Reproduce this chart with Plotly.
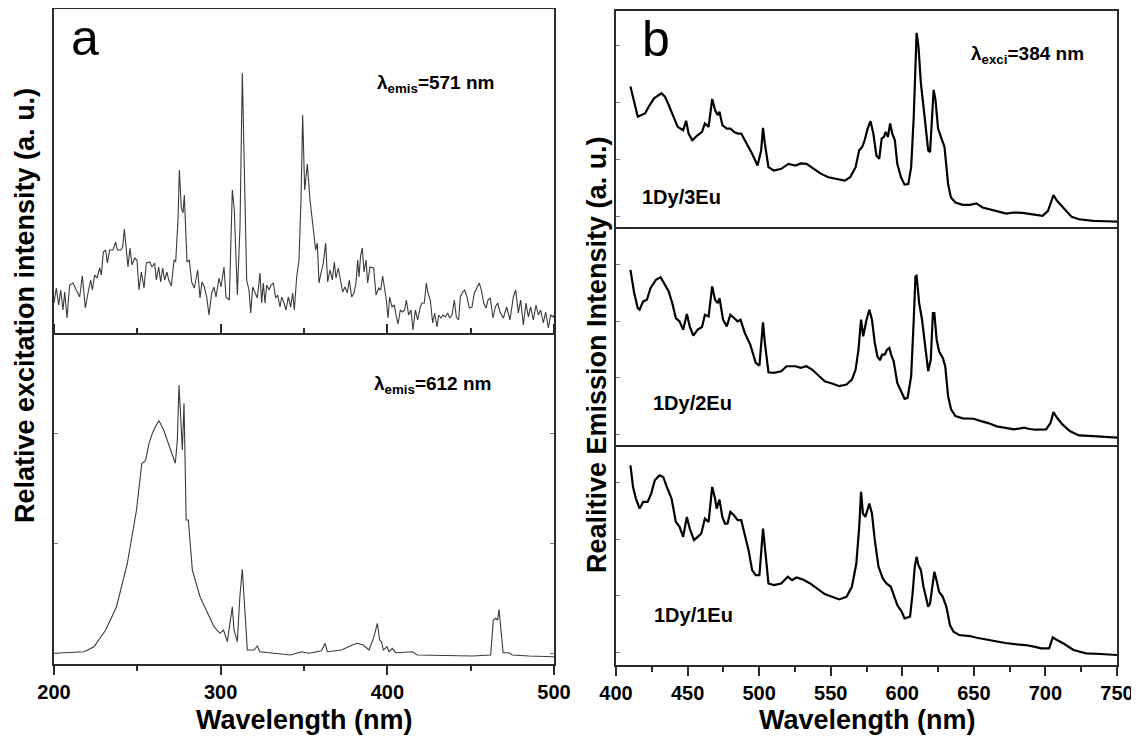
import plotly.graph_objects as go

# ---------------- data ----------------
# Panel a, top: excitation spectrum, lambda_emis = 571 nm
a_top_x = [200, 201.4, 202.8, 204, 205.4, 206.4, 207.8, 209.4, 211.4, 213.4, 215.4, 217, 218.8, 220.4, 222, 223,
           224.4, 225.8, 227.4, 228.4, 229.6, 231, 232, 233.4, 235.4, 237, 238, 240, 241.2, 242.2, 243.4, 244.4,
           245.6, 246.8, 248.4, 249.8, 251, 252.4, 254, 255.4, 257.4, 258.8, 260.4, 261.4, 262.8, 264, 265.2,
           266.4, 267.8, 268.8, 270.4, 272, 273, 274.4, 275.2, 276.4, 277.4, 278.2, 279.8, 281.2, 282.6, 284.2,
           286.2, 287.6, 288.8, 290.2, 291.6, 293, 294.6, 296, 297.2, 299, 300.2, 302, 303.2, 305.2, 307, 308.2,
           310, 311.6, 313, 314.2, 315.6, 317, 318, 319.2, 320.6, 322, 323.6, 324.6, 325.6, 326.6, 327.6, 329,
           330.2, 331.6, 333, 334.2, 335.6, 336.6, 338, 339.2, 340.6, 342, 343.2, 344.2, 345.6, 347, 348.2, 349.2,
           350.4, 352, 353.6, 355.6, 357, 358, 359, 360.2, 361.6, 363, 364.2, 365.6, 367, 368.2, 369.2, 370.6,
           372, 373.2, 374.6, 376, 377.2, 378.6, 380, 381.2, 382.2, 383, 384, 385, 386, 387.2, 388.2, 389.6,
           391.8, 393.2, 394.8, 396, 397.2, 398.4, 399.4, 400.4, 401.4, 402.8, 404.2, 405.2, 406.4, 407.8, 409.2,
           410.4, 411.4, 412.8, 414.2, 415.4, 416.8, 418.2, 419.8, 420.8, 422.2, 423.4, 424.4, 425.8, 427.2,
           428.4, 429.8, 430.8, 432.2, 433.4, 434.8, 436.2, 437.4, 438.8, 440.2, 441.4, 442.8, 443.8, 445.2,
           446.4, 447.8, 449.2, 450.8, 452.2, 453.8, 455.2, 456.4, 457.8, 459.2, 460.4, 461.8, 463.4, 464.8,
           466.2, 467.6, 469.6, 471.6, 473.6, 475.6, 477, 478.6, 480, 481.6, 483.2, 484.6, 486, 487.6, 489.2,
           490.6, 492, 493.6, 495, 496.6, 498, 499.6, 500]
a_top_y = [32, 47, 30, 45, 25, 43, 17, 50, 52, 45, 38, 59, 27, 42, 55, 45,
           60, 57, 67, 60, 83, 85, 72, 85, 85, 93, 85, 85, 88, 106, 88, 68,
           87, 70, 77, 75, 45, 63, 47, 72, 73, 68, 72, 55, 68, 53, 67,
           55, 63, 55, 49, 75, 73, 115, 165, 127, 122, 140, 73, 75, 53, 47,
           65, 37, 53, 48, 38, 20, 42, 48, 38, 57, 48, 68, 38, 35, 145, 125,
           40, 108, 262, 175, 55, 45, 22, 48, 42, 37, 62, 32, 52, 32, 50, 45,
           50, 52, 37, 40, 28, 38, 32, 25, 38, 28, 42, 25, 58, 75, 135, 220,
           145, 171, 135, 102, 85, 92, 52, 62, 72, 92, 53, 65, 55, 73, 57, 67,
           55, 43, 48, 42, 55, 38, 42, 52, 75, 58, 80, 87, 63, 75, 52, 68,
           67, 40, 47, 45, 59, 45, 35, 17, 38, 28, 30, 20, 11, 25, 23,
           25, 35, 20, 25, 5, 25, 15, 28, 32, 32, 52, 42, 35, 12,
           22, 8, 20, 17, 20, 18, 22, 17, 20, 35, 18, 15, 38, 43,
           45, 38, 27, 28, 42, 47, 52, 45, 32, 27, 35, 37, 17, 28,
           32, 23, 17, 28, 15, 38, 45, 22, 35, 10, 32, 18, 28, 15, 30,
           20, 25, 12, 23, 7, 20, 18, 20]

# Panel a, bottom: excitation spectrum, lambda_emis = 612 nm
a_bot_x = [200, 210, 218, 224, 231, 237.5, 244, 249.5, 252.7, 254, 255, 257, 259, 261.4, 263, 265.8, 268, 270,
           272.8, 274, 275, 276, 277, 278, 279.3, 280.6, 283, 287.6, 292, 296, 299.6, 301.7, 304, 306, 307, 308,
           310, 311.5, 313, 314, 316, 320, 322, 323.5, 331, 342, 348.6, 353, 360.5, 362.7, 364, 372.5, 379, 382,
           385.6, 389, 392, 394, 395.4, 396.5, 397.6, 399.8, 401, 403, 405, 415, 418, 430, 451, 462, 463.6, 465,
           466.2, 467, 468, 469.5, 472.8, 475, 485, 500]
a_bot_y = [10.7, 11.5, 12.3, 17.3, 34, 57.3, 100.7, 154, 200.7, 202, 204, 220.7, 230.7, 239, 243.3, 234, 224, 214,
           200.7, 224, 279, 247.3, 214, 260.7, 144, 144, 94, 67.3, 50.7, 37.3, 30.7, 34, 22.3, 47.3, 57.3, 34,
           22.3, 67.3, 94.7, 67.3, 14, 14, 18, 12.3, 10.7, 9, 12.3, 10.7, 13.3, 20.7, 12.3, 14, 19, 20.7,
           19, 14, 27.3, 40.7, 24, 22.3, 14, 17.3, 12.3, 15.7, 11.3, 12.3, 9, 8.5, 8, 9, 44, 45.7,
           44, 54.7, 34, 11.3, 11.3, 9, 8, 7.3]

# Panel b: emission spectra, lambda_exci = 384 nm
b3_x = [410.1, 412.7, 415.2, 417.8, 420.3, 422.8, 426.6, 431.7, 434.2, 436.8, 439.3, 443.1, 446.9, 449, 450.7,
        453.3, 457, 460.1, 462.1, 464.7, 467.2, 469.2, 471, 472.3, 474.3, 477.4, 479.9, 482.4, 485, 487.5, 490,
        495.1, 498.9, 501.4, 502.7, 504, 506.5, 510.3, 515.4, 520.5, 525.5, 529, 533.1, 538.2, 543.3, 548.4,
        553.4, 559.8, 563.6, 567.4, 569.9, 572, 573.7, 575.8, 577.8, 579.8, 581.9, 583.9, 585.6, 587.2, 588.4,
        590, 591.5, 593, 594.8, 596.5, 599.1, 601.6, 604.2, 606.2, 608, 609.2, 610, 611.3, 613, 615.6, 618.1,
        619.4, 620.6, 621.9, 623.2, 625, 627, 629.5, 632, 634, 637.1, 642.2, 647.3, 651.8, 656.1, 662.5, 668,
        672.6, 678, 684, 690.4, 698, 701.8, 704.3, 705.6, 708.1, 713.2, 718.3, 723.4, 733.5, 742, 750]
b3_y = [425, 375, 335, 340, 345, 365, 390, 405, 395, 370, 345, 305, 295, 323, 285,
        265, 280, 290, 315, 305, 388, 355, 340, 350, 310, 300, 300, 290, 285, 285, 265,
        225, 190, 235, 302, 255, 185, 175, 180, 195, 190, 196, 195, 180, 165, 155,
        150, 145, 155, 185, 235, 245, 265, 300, 322, 285, 220, 210, 270, 275, 290,
        275, 315, 285, 265, 195, 155, 133, 135, 185, 335, 535, 585, 545, 435, 335, 235,
        230, 305, 415, 385, 300, 275, 245, 135, 95, 80, 73, 73, 77, 65, 57, 52,
        47, 50, 49, 45, 40, 55, 90, 102, 85, 60, 37, 30, 25, 24, 23]

b2_x = [410.1, 412.7, 415.2, 416.5, 419, 421.6, 424.1, 427.9, 431.2, 433.7, 436.8, 439.3, 441.8, 444.4, 446.9,
        449.5, 451.5, 454, 457.1, 460.1, 462.1, 464.7, 467.2, 469.2, 471, 472.3, 474.8, 477.4, 479.9, 482.4,
        485, 487, 490, 493.8, 497.6, 500.2, 501.4, 502.7, 504, 506.5, 510.3, 515.4, 519.2, 525.5, 529, 533.1,
        537, 540.8, 545.8, 550.9, 556, 561, 564.8, 567.4, 569.4, 571.2, 572.7, 575, 577, 578.8, 580.8, 582.6,
        584.4, 585.9, 587.7, 589.4, 591, 592.2, 594, 596.5, 599.6, 601.6, 603.7, 606.2, 608, 609.2, 610, 611.8,
        613.8, 615.6, 618.1, 619.9, 621.4, 622.4, 624, 625.7, 628.3, 630, 632, 634.1, 637.1, 642.2, 649.8,
        655, 660, 666, 672, 678, 685.3, 688, 692.9, 697, 700.5, 703.6, 705.6, 708.1, 711.9, 717, 723.4, 733.5,
        742, 750]
b2_y = [533, 463, 418, 413, 438, 443, 478, 503, 511, 493, 468, 433, 388, 378, 353,
        400, 363, 335, 353, 361, 398, 393, 483, 443, 433, 448, 383, 363, 398, 388,
        378, 383, 343, 308, 253, 245, 303, 375, 313, 225, 223, 228, 243, 243, 238, 243,
        233, 218, 198, 191, 183, 188, 203, 233, 293, 383, 333, 383, 413, 383, 313, 273,
        261, 278, 278, 293, 298, 278, 258, 193, 163, 145, 148, 213, 383, 513, 515, 433,
        383, 323, 228, 263, 403, 403, 323, 288, 268, 243, 153, 113, 93, 86, 85,
        78, 72, 62, 58, 53, 58, 55, 52, 52, 53, 73, 105, 88, 68, 48, 35, 33,
        30, 28]

b1_x = [410.1, 411.9, 413.9, 416.5, 419, 422.1, 424.6, 427.1, 430.4, 433, 435.5, 438.8, 441.8, 444.4, 446.9,
        449.5, 451.5, 454.5, 457.1, 459.6, 462.1, 464.7, 467.2, 469.2, 470.3, 472.3, 474.3, 476.1, 477.9, 479.9,
        482.4, 485, 487.5, 490, 492.6, 495.1, 497.6, 500.2, 501.4, 502.7, 504, 506.5, 510.3, 515.4, 520, 523,
        526, 530.6, 535.6, 540.8, 545.8, 550.9, 556, 561, 564.8, 567.9, 569.9, 571.2, 572.5, 574.2, 577, 578.8,
        580.8, 583.4, 586.4, 588.9, 592, 594.5, 596.5, 599.6, 601.6, 605.4, 607.2, 608.7, 610, 611.3, 613,
        614.8, 618.1, 619.4, 621.1, 622.4, 623.9, 625.7, 628.3, 630.8, 633.3, 635.8, 639.7, 647.3, 652, 660,
        666, 672, 680, 686, 692, 697, 702.6, 705.1, 708.1, 713.2, 719.6, 728.4, 738.5, 750]
b1_y = [600, 535, 500, 470, 490, 490, 515, 555, 570, 565, 535, 500, 430, 415, 385,
        445, 410, 375, 385, 395, 440, 430, 535, 500, 470, 497, 445, 425, 425, 460,
        450, 435, 435, 390, 345, 285, 270, 270, 355, 410, 355, 245, 240, 245, 265, 255,
        263, 257, 245, 230, 213, 205, 197, 205, 235, 305, 415, 520, 455, 445, 485, 455,
        375, 295, 260, 245, 235, 205, 180, 160, 140, 145, 215, 295, 325, 300, 285,
        235, 175, 185, 245, 280, 255, 220, 205, 175, 120, 100, 90, 87, 82, 75,
        72, 66, 62, 60, 55, 50, 50, 83, 75, 63, 45, 35, 33, 30]

a_ticks = [200, 300, 400, 500]
a_minor = [250, 350, 450]
b_ticks = [400, 450, 500, 550, 600, 650, 700, 750]
b_minor = [425, 475, 525, 575, 625, 675, 725]

# ---------------- figure ----------------
# The page body has an 8 px default margin, so the figure is 8 px smaller on each axis
# and every page position below is offset by that margin.
PAGE_W, PAGE_H = 1139, 748
OFF = 8
W, H = PAGE_W - OFF, PAGE_H - OFF
FONT = "Liberation Sans, Arial, sans-serif"


def px(x):
    return (x - OFF) / W


def py(y):
    return 1 - (y - OFF) / H


fig = go.Figure()
fig.add_trace(go.Scatter(x=a_top_x, y=a_top_y, xaxis="x", yaxis="y", mode="lines",
                         line=dict(color="#3a3a3a", width=1.1), showlegend=False))
fig.add_trace(go.Scatter(x=a_bot_x, y=a_bot_y, xaxis="x2", yaxis="y2", mode="lines",
                         line=dict(color="#3a3a3a", width=1.1), showlegend=False))
fig.add_trace(go.Scatter(x=b3_x, y=b3_y, xaxis="x3", yaxis="y3", mode="lines",
                         line=dict(color="black", width=2.2), showlegend=False))
fig.add_trace(go.Scatter(x=b2_x, y=b2_y, xaxis="x4", yaxis="y4", mode="lines",
                         line=dict(color="black", width=2.2), showlegend=False))
fig.add_trace(go.Scatter(x=b1_x, y=b1_y, xaxis="x5", yaxis="y5", mode="lines",
                         line=dict(color="black", width=2.2), showlegend=False))

LC = "#2a2a2a"
base = dict(showline=True, linecolor=LC, linewidth=2, showgrid=False, zeroline=False, automargin=False)
tickfont = dict(family=FONT, size=20, color="black", weight="bold")

# upper subplots: only draw their top border (divider drawn by the subplot below)
top_x = dict(base, side="top", mirror=False, ticks="", showticklabels=False)
ylines = dict(base, mirror=True, showticklabels=False)
lab_x = dict(base, ticks="outside", ticklen=9, tickwidth=2, tickcolor=LC, showticklabels=True,
             tickfont=tickfont)

fig.update_layout(
    template="none",
    width=W, height=H, autosize=False,
    margin=dict(l=0, r=0, t=0, b=0, pad=0),
    paper_bgcolor="white", plot_bgcolor="white",
    showlegend=False,
    xaxis=dict(top_x, domain=[px(54), px(554)], range=[200, 500], anchor="y"),
    yaxis=dict(ylines, domain=[py(335), py(9)], range=[0, 326], anchor="x", ticks=""),
    xaxis2=dict(lab_x, domain=[px(54), px(554)], range=[200, 500], anchor="y2", tickvals=a_ticks,
                mirror="ticks",
                minor=dict(tickvals=a_minor, ticks="outside", ticklen=5, tickwidth=2, tickcolor=LC)),
    yaxis2=dict(ylines, domain=[py(664), py(335)], range=[0, 329], anchor="x2", ticks="inside", ticklen=4,
                tickwidth=1, tickcolor="#777", dtick=110, tick0=11, mirror="ticks"),
    xaxis3=dict(top_x, domain=[px(616), px(1117)], range=[400, 750], anchor="y3"),
    yaxis3=dict(ylines, domain=[py(229.3), py(11)], range=[0, 650], anchor="x3", ticks="inside", ticklen=4,
                tickwidth=1, tickcolor="#777", dtick=170, tick0=38),
    xaxis4=dict(top_x, domain=[px(616), px(1117)], range=[400, 750], anchor="y4"),
    yaxis4=dict(ylines, domain=[py(447), py(229.3)], range=[0, 655], anchor="x4", ticks="inside", ticklen=4,
                tickwidth=1, tickcolor="#777", dtick=170, tick0=38),
    xaxis5=dict(lab_x, domain=[px(616), px(1117)], range=[400, 750], anchor="y5", tickvals=b_ticks,
                mirror=True,
                minor=dict(tickvals=b_minor, ticks="outside", ticklen=5, tickwidth=2, tickcolor=LC)),
    yaxis5=dict(ylines, domain=[py(665), py(447)], range=[0, 655], anchor="x5", ticks="inside", ticklen=4,
                tickwidth=1, tickcolor="#777", dtick=170, tick0=38),
)


def ann(text, x, y, size, xanchor="left", bold=True, angle=0, yanchor="middle"):
    fig.add_annotation(text=text, x=px(x), y=py(y), xref="paper", yref="paper", showarrow=False,
                       xanchor=xanchor, yanchor=yanchor, textangle=angle,
                       font=dict(family=FONT, size=size, color="black", weight="bold" if bold else "normal"))


ann("λ<sub>emis</sub>=571 nm", 375, 84, 19)
ann("λ<sub>emis</sub>=612 nm", 372, 385, 19)
ann("λ<sub>exci</sub>=384 nm", 969, 55, 19)
ann("1Dy/3Eu", 640, 197, 20)
ann("1Dy/2Eu", 651, 403, 20)
ann("1Dy/1Eu", 652, 615, 20)
ann("a", 85, 38, 50, xanchor="center", bold=False)
ann("b", 656, 39, 50, xanchor="center", bold=False)
ann("Wavelength (nm)", 304, 720, 27, xanchor="center")
ann("Wavelength (nm)", 867, 720, 27, xanchor="center")
ann("Relative excitation intensity (a. u.)", 25, 306, 27, xanchor="center", angle=-90)
ann("Realitive Emission Intensity (a. u.)", 597, 355, 27, xanchor="center", angle=-90)

fig.write_html("out.html")
